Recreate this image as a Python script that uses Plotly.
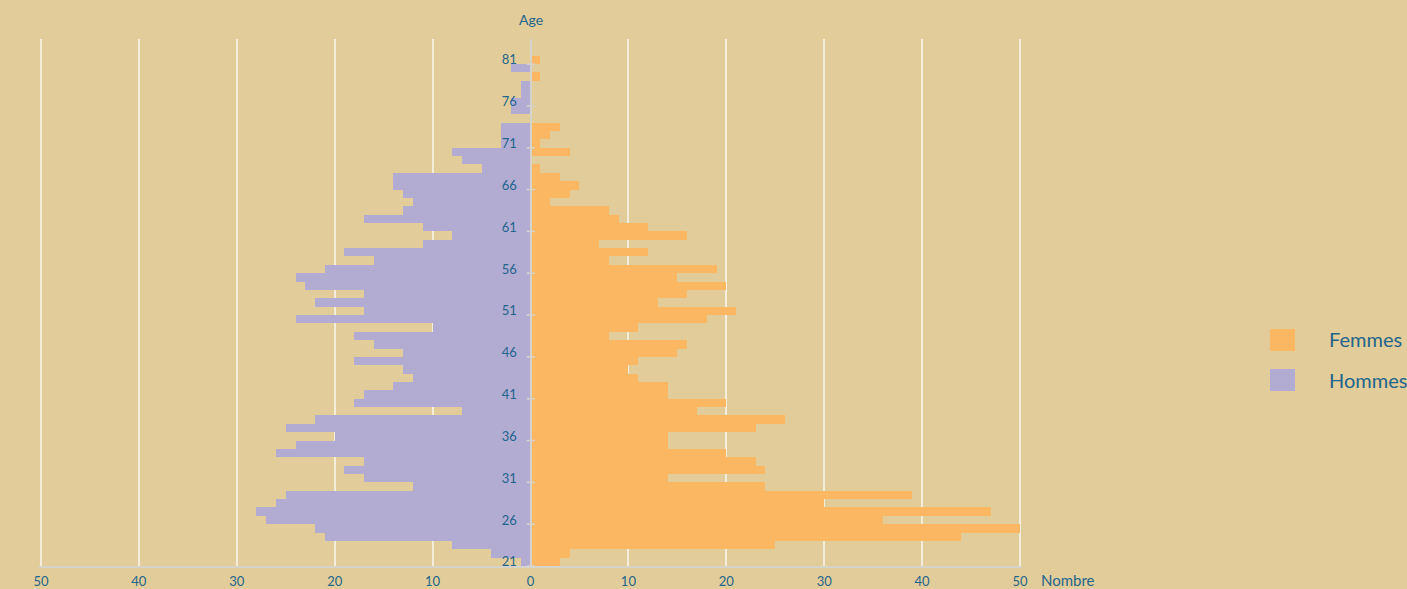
import plotly.graph_objects as go

# Age pyramid: number of people per year of age, women on the right, men on the left
ages = list(range(21, 84))
hommes = [1, 4, 8, 21, 22, 27, 28, 26, 25, 12,
          17, 19, 17, 26, 24, 20, 25, 22, 7, 18,
          17, 14, 12, 13, 18, 13, 16, 18, 10, 24,
          17, 22, 17, 23, 24, 21, 16, 19, 11, 8,
          11, 17, 13, 12, 13, 14, 14, 5, 7, 8,
          3, 3, 3, 0, 2, 2, 1, 1, 0, 2,
          0, 0, 0]
femmes = [3, 4, 25, 44, 50, 36, 47, 30, 39, 24,
          14, 24, 23, 20, 14, 14, 23, 26, 17, 20,
          14, 14, 11, 10, 11, 15, 16, 8, 11, 18,
          21, 13, 16, 20, 15, 19, 8, 12, 7, 16,
          12, 9, 8, 2, 4, 5, 3, 1, 0, 4,
          1, 2, 3, 0, 0, 0, 0, 0, 1, 0,
          1, 0, 0]
x_ticks = [-50, -40, -30, -20, -10, 0, 10, 20, 30, 40, 50]
x_ticktext = [str(abs(v)) for v in x_ticks]
age_ticks = ages[::5]

BG = "#E2CC99"
ORANGE = "#FCB762"
PURPLE = "#B2ACD3"
TEXT = "#22658C"
GRID = "#F4EDDB"
AXIS = "#D6D3CC"
FONT = "Lato, 'Open Sans', sans-serif"

W, H = 1407, 589
ML, MR, MT, MB = 39, 385, 39, 23
PW, PH = W - ML - MR, H - MT - MB
X_PAD = 0.2  # keeps the outer gridlines (±50) inside the plot area


def px_x(px):
    return (px - ML) / PW


def px_y(py):
    return (H - MB - py) / PH


fig = go.Figure()
fig.add_trace(go.Bar(
    y=ages, x=[-v for v in hommes], orientation="h", name="Hommes",
    marker=dict(color=PURPLE, line=dict(width=0)), width=1, showlegend=False,
))
fig.add_trace(go.Bar(
    y=ages, x=femmes, orientation="h", name="Femmes",
    marker=dict(color=ORANGE, line=dict(width=0)), width=1, showlegend=False,
))

# small marks on the central axis between age classes
shapes = []
for a in age_ticks:
    shapes.append(dict(type="line", xref="x", yref="y", x0=-0.38, x1=0.45,
                       y0=a - 0.5, y1=a - 0.5, line=dict(color=AXIS, width=1.5),
                       layer="above"))

# legend boxes
legend_items = [("Femmes", ORANGE, 329, 351, 339), ("Hommes", PURPLE, 369, 391, 380)]
annotations = []
for label, col, top, bottom, mid in legend_items:
    shapes.append(dict(type="rect", xref="paper", yref="paper",
                       x0=px_x(1270), x1=px_x(1295), y0=px_y(bottom), y1=px_y(top),
                       fillcolor=col, line=dict(width=0)))
    annotations.append(dict(text=label, xref="paper", yref="paper", x=px_x(1327),
                            y=px_y(mid), xanchor="left", yanchor="middle",
                            showarrow=False, font=dict(size=20, color=TEXT, family=FONT)))

annotations.append(dict(text="Age", xref="x", yref="paper", x=0, y=px_y(20),
                        xanchor="center", yanchor="middle", showarrow=False,
                        font=dict(size=14, color=TEXT, family=FONT)))
annotations.append(dict(text="Nombre", xref="paper", yref="paper", x=px_x(1039),
                        y=px_y(580), xanchor="left", yanchor="middle", showarrow=False,
                        font=dict(size=15, color=TEXT, family=FONT)))

fig.update_layout(
    width=W, height=H,
    margin=dict(l=ML, r=MR, t=MT, b=MB, pad=0, autoexpand=False),
    paper_bgcolor=BG, plot_bgcolor=BG,
    barmode="overlay", bargap=0,
    showlegend=False,
    font=dict(family=FONT, color=TEXT, size=12),
    shapes=shapes, annotations=annotations,
    xaxis=dict(range=[-50 - X_PAD, 50 + X_PAD], tickvals=x_ticks, ticktext=x_ticktext,
               showgrid=True, gridcolor=GRID, gridwidth=2, zeroline=False,
               showline=True, linecolor=AXIS, linewidth=2, ticks="",
               ticklabelstandoff=2, automargin=False,
               tickfont=dict(size=13, color=TEXT), fixedrange=True),
    yaxis=dict(range=[20.5, 83.5], tickvals=age_ticks, ticks="",
               anchor="free", position=0.5, showgrid=False, zeroline=False,
               showline=True, linecolor=AXIS, linewidth=2, automargin=False,
               ticklabelstandoff=10, tickfont=dict(size=13, color=TEXT),
               fixedrange=True),
)

fig.write_html("out.html")
